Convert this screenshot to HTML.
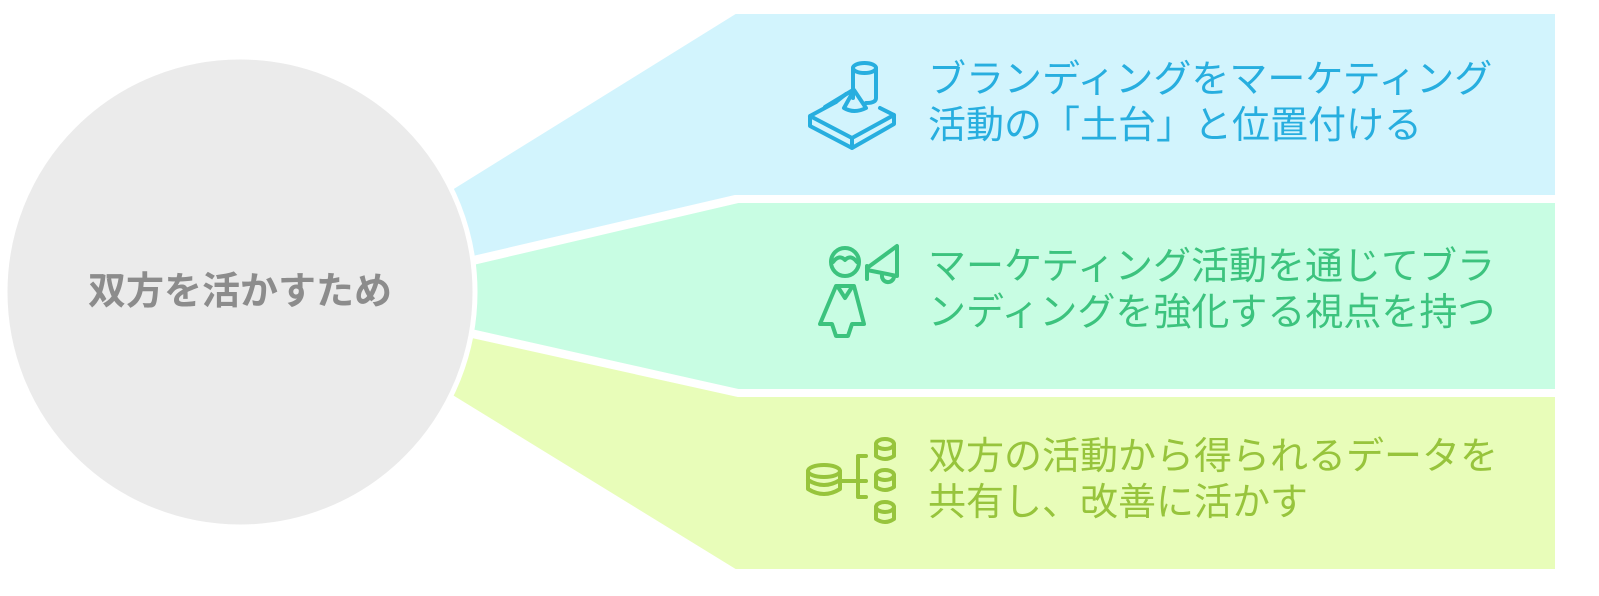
<!DOCTYPE html>
<html><head><meta charset="utf-8"><style>
body{margin:0;background:#fff;width:1599px;height:596px;overflow:hidden;position:relative;font-family:"Liberation Sans","Noto Sans CJK JP",sans-serif}
.t{position:absolute;left:928px;font-size:38px;line-height:46px;white-space:nowrap}
</style></head><body>
<svg width="1599" height="596" style="position:absolute;left:0;top:0">
<polygon points="400,220 735,12 1557,12 1557,197 735,197 400,275" fill="#d2f4fd" stroke="#fff" stroke-width="4"/>
<polygon points="400,280 738,201 1557,201 1557,391 738,391 400,315" fill="#c8fde3" stroke="#fff" stroke-width="4"/>
<polygon points="400,320 738,395 1557,395 1557,571 735,571 400,365" fill="#e8fdb9" stroke="#fff" stroke-width="4"/>
<circle cx="240" cy="292" r="235" fill="#ebebeb" stroke="#fff" stroke-width="5"/>
<g fill="none" stroke="#27aedf" stroke-width="4" stroke-linecap="round" stroke-linejoin="round">
<path d="M853,68 v30 M876,68 v30 q0,5 -10,5"/>
<ellipse cx="864.5" cy="68" rx="11.5" ry="5"/>
<path d="M854,90 l-10,18 q10,6 22,0 z"/>
<path d="M853,90 L825,107 M836,102 L810,116 v10 L852,148 L894,124 v-9 L880,108 M810,116 L852,138 L894,115 M852,138 v10"/>
<path d="M846,94 L836,102"/>
</g>
<g fill="none" stroke="#3cc37e" stroke-width="4" stroke-linecap="round" stroke-linejoin="round">
<circle cx="845" cy="262" r="14"/>
<path d="M833,262 q6,-8 12,-2 q6,-6 12,2"/>
<path d="M836,286 h18 l10,38 h-12 l-4,12 h-12 l-4,-12 h-12 z M838,287 l7,11 l7,-11"/>
<path d="M867,266 v13 M867,268 l30,-22 v30 l-30,-6"/>
<path d="M882,275 a6,6 0 0 0 12,2"/>
</g>
<g fill="none" stroke="#97c43c" stroke-width="4" stroke-linecap="round" stroke-linejoin="round">
<ellipse cx="824" cy="471" rx="16" ry="6"/>
<path d="M808,471 v18 q16,10 32,0 v-18 M808,480 q16,10 32,0"/>
<path d="M840,481 h26 M866,456 h-8 v41 h8"/>
<ellipse cx="885" cy="444" rx="9" ry="5"/><path d="M876,444 v12 q9,6 18,0 v-12"/>
<ellipse cx="885" cy="475" rx="9" ry="5"/><path d="M876,475 v12 q9,6 18,0 v-12"/>
<ellipse cx="885" cy="507" rx="9" ry="5"/><path d="M876,507 v12 q9,6 18,0 v-12"/>
</g>
</svg>
<div style="position:absolute;left:7px;width:466px;top:268px;text-align:center;font-size:38px;font-weight:bold;color:#8c8c8c;line-height:48px">双方を活かすため</div>
<div class="t" style="top:57px;color:#27aedf">ブランディングをマーケティング<br>活動の「土台」と位置付ける</div>
<div class="t" style="top:244px;color:#3cc37e">マーケティング活動を通じてブラ<br>ンディングを強化する視点を持つ</div>
<div class="t" style="top:434px;color:#97c43c">双方の活動から得られるデータを<br>共有し、改善に活かす</div>
</body></html>
